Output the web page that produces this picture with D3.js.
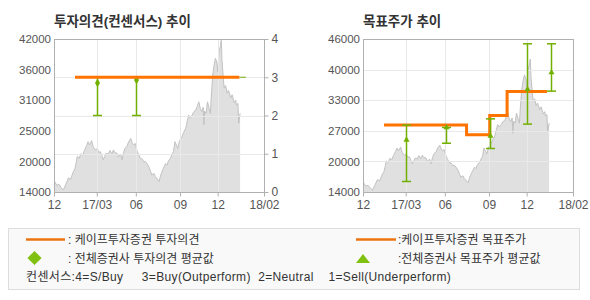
<!DOCTYPE html>
<html>
<head>
<meta charset="utf-8">
<script src="https://cdn.jsdelivr.net/npm/d3@7"></script>
<style>
  body { margin: 0; background: #fff; }
  svg text { font-family: "Liberation Sans", "Noto Sans CJK KR", sans-serif; }
</style>
</head>
<body>
<div id="chart"></div>
<script>
// x axis is in trading-day index from early Dec 2016
const xTickIdx = [0, 59, 113, 174, 226, 290];
const xTickLabels = ['12', '17/03', '06', '09', '12', '18/02'];

// share price (trading-day index, price)
const priceIdx = [0, 1, 4, 7, 10, 13, 16, 20, 23, 26, 29, 31, 32, 35, 37, 40, 42, 45, 47, 49,
  52, 54, 57, 60, 62, 64, 66, 68, 70, 72, 75, 77, 80, 82, 84, 87, 89, 92, 94, 96,
  98, 101, 103, 106, 108, 110, 112, 115, 117, 119, 122, 124, 126, 129, 131, 133, 135, 138, 140, 142,
  145, 147, 149, 151, 154, 156, 158, 161, 163, 165, 167, 169, 171, 173, 175, 177, 179, 182, 184, 186,
  188, 191, 193, 196, 198, 200, 202, 204, 206, 207, 208, 210, 212, 214, 216, 217, 219, 221, 223, 225,
  226, 228, 230, 231, 232, 234, 235, 237, 239, 241, 244, 246, 249, 251, 252, 254, 255, 257];
const priceVal = [15600, 15900, 15200, 15400, 14800, 14400, 15300, 16600, 16300, 17500, 18300, 19600, 20500, 20200, 21000, 20800, 21600, 22500, 23200, 22600,
  23400, 22300, 21700, 21900, 21200, 21400, 20700, 19900, 20500, 21100, 20900, 21600, 21000, 21700, 21200, 21100, 20400, 20900, 19900, 21200,
  22000, 22400, 23200, 23800, 23000, 22600, 22900, 21400, 20800, 20200, 20000, 19500, 19600, 19100, 18600, 17900, 17100, 17400, 16800, 16500,
  15900, 16900, 17700, 18300, 19200, 18900, 19700, 20200, 20900, 21400, 23200, 22600, 22000, 23200, 23800, 24200, 24900, 25700, 27000, 28100,
  27600, 28100, 28700, 29000, 29800, 30500, 29300, 28700, 29500, 26300, 28800, 28400, 30500, 29400, 28400, 31000, 35100, 37200, 38500, 37600,
  36000, 39700, 40800, 41800, 38000, 34500, 33000, 33500, 32100, 32600, 31200, 31800, 30300, 30800, 29900, 30200, 26600, 28400];

// investment opinion (Cape Investment & Securities), 3 = Buy
const opinionIdx = [29, 256];
const opinionVal = [3, 3];
const opinionTailIdx = [256, 265];
// all-brokers opinion consensus
const consIdx = [59, 113];
const consAvg = [2.85, 2.93];
const consLow = [2, 2];
const consHigh = [3, 3];

// target price (Cape), step line
const targetIdx = [29, 143, 175, 199, 254];
const targetVal = [28000, 26000, 30000, 35000, 35000];
// all-brokers target price consensus
const tgtConsIdx = [59, 114, 175, 227, 259];
const tgtConsAvg = [24900, 27500, 25700, 35500, 39000];
const tgtConsLow = [16200, 24200, 23100, 28200, 35100];
const tgtConsHigh = [28000, 27500, 29300, 45000, 45000];

const price = priceIdx.map((d, i) => [d, priceVal[i]]);

const orange = '#ff7300';
const green = '#72b000';
const axisColor = '#b0b0b0';
const gridColor = '#e9e9e9';
const labelColor = '#555';

const svg = d3.select('#chart').append('svg')
  .attr('width', 590)
  .attr('height', 300);

const plotTop = 39, plotBottom = 192, plotW = 210;

function panel(opt) {
  const g = svg.append('g');
  const x = d3.scaleLinear().domain([0, 290]).range([opt.x0, opt.x0 + plotW]);
  const y = d3.scaleLinear().domain(opt.yDomain).range([plotBottom, plotTop]);
  const yTicks = d3.range(6).map(i => opt.yDomain[0] + i * (opt.yDomain[1] - opt.yDomain[0]) / 5);

  g.append('text')
    .attr('x', opt.x0)
    .attr('y', 26)
    .attr('font-size', 13.5)
    .attr('font-weight', 'bold')
    .attr('fill', '#333')
    .text(opt.title);

  const clipId = 'clip' + opt.x0;
  g.append('clipPath').attr('id', clipId)
    .append('rect').attr('x', opt.x0).attr('y', plotTop).attr('width', plotW).attr('height', plotBottom - plotTop);

  // price area
  g.append('path')
    .datum(price)
    .attr('clip-path', `url(#${clipId})`)
    .attr('fill', '#e0e0e0')
    .attr('d', d3.area().x(d => x(d[0])).y0(plotBottom).y1(d => y(d[1])));
  g.append('path')
    .datum(price)
    .attr('clip-path', `url(#${clipId})`)
    .attr('fill', 'none')
    .attr('stroke', '#c2c2c2')
    .attr('stroke-width', 1)
    .attr('d', d3.line().x(d => x(d[0])).y(d => y(d[1])));

  // grid
  g.selectAll('.vgrid')
    .data(xTickIdx.slice(1, -1))
    .enter().append('line')
    .attr('x1', d => Math.round(x(d)) + 0.5).attr('x2', d => Math.round(x(d)) + 0.5)
    .attr('y1', plotTop).attr('y2', plotBottom)
    .attr('stroke', gridColor);
  g.selectAll('.hgrid')
    .data(opt.gridY)
    .enter().append('line')
    .attr('x1', opt.x0).attr('x2', opt.x0 + plotW)
    .attr('y1', d => Math.round(opt.gridScale(y)(d)) + 0.5)
    .attr('y2', d => Math.round(opt.gridScale(y)(d)) + 0.5)
    .attr('stroke', gridColor);

  // frame
  g.append('rect')
    .attr('x', opt.x0 + 0.5).attr('y', plotTop + 0.5)
    .attr('width', plotW).attr('height', plotBottom - plotTop)
    .attr('fill', 'none').attr('stroke', axisColor);

  // x axis
  const xAxis = g.append('g')
    .attr('transform', `translate(0,${plotBottom + 0.5})`)
    .call(d3.axisBottom(x).tickValues(xTickIdx).tickFormat((d, i) => xTickLabels[i]).tickSize(4).tickPadding(4));
  xAxis.select('.domain').remove();
  xAxis.selectAll('line').attr('stroke', axisColor);
  xAxis.selectAll('text').attr('font-size', 12).attr('fill', labelColor).attr('font-family', null);

  // y axis (left)
  const yAxis = g.append('g')
    .attr('transform', `translate(${opt.x0 - 3},0)`)
    .call(d3.axisLeft(y).tickValues(yTicks).tickFormat(d => Math.round(d / 1000) * 1000).tickSize(0).tickPadding(0));
  yAxis.select('.domain').remove();
  yAxis.selectAll('text').attr('font-size', 11.5).attr('fill', labelColor).attr('font-family', null);

  return { g, x, y };
}

// ---- left: investment opinion ----
const yOp = d3.scaleLinear().domain([0, 4]).range([plotBottom, plotTop]);
const left = panel({
  x0: 54, yDomain: [14000, 42000], title: '투자의견(컨센서스) 추이',
  gridY: [1, 2, 3], gridScale: () => yOp
});

const rAxis = left.g.append('g')
  .attr('transform', `translate(${54 + plotW + 0.5},0)`)
  .call(d3.axisRight(yOp).ticks(4).tickSize(4).tickPadding(3));
rAxis.select('.domain').remove();
rAxis.selectAll('line').attr('stroke', axisColor);
rAxis.selectAll('text').attr('font-size', 12).attr('fill', labelColor).attr('font-family', null);

const lx = left.x;
consIdx.forEach((d, i) => {
  const cx = Math.round(lx(d)) + 0.5;
  left.g.append('line').attr('x1', cx).attr('x2', cx)
    .attr('y1', yOp(consLow[i])).attr('y2', yOp(consHigh[i]))
    .attr('stroke', green).attr('stroke-width', 1.5);
  left.g.append('line').attr('x1', cx - 4.5).attr('x2', cx + 4.5)
    .attr('y1', yOp(consLow[i])).attr('y2', yOp(consLow[i]))
    .attr('stroke', green).attr('stroke-width', 1.5);
  left.g.append('path')
    .attr('transform', `translate(${cx},${yOp(consAvg[i])})`)
    .attr('d', d3.symbol(d3.symbolDiamond, 22)())
    .attr('fill', green);
});
left.g.append('path')
  .datum(opinionTailIdx.map(d => [d, 3]))
  .attr('fill', 'none').attr('stroke', green).attr('stroke-width', 1)
  .attr('d', d3.line().x(d => lx(d[0])).y(d => yOp(d[1])));
left.g.append('path')
  .datum(opinionIdx.map((d, i) => [d, opinionVal[i]]))
  .attr('fill', 'none').attr('stroke', orange).attr('stroke-width', 3)
  .attr('d', d3.line().x(d => lx(d[0])).y(d => yOp(d[1])));

// ---- right: target price ----
const right = panel({
  x0: 363, yDomain: [14000, 46000], title: '목표주가 추이',
  gridY: d3.range(1, 5).map(i => 14000 + i * 6400), gridScale: y => y
});
const rx = right.x, ry = right.y;
right.g.append('path')
  .datum(targetIdx.map((d, i) => [d, targetVal[i]]))
  .attr('fill', 'none').attr('stroke', orange).attr('stroke-width', 3)
  .attr('d', d3.line().curve(d3.curveStepAfter).x(d => rx(d[0])).y(d => ry(d[1])));
tgtConsIdx.forEach((d, i) => {
  const cx = Math.round(rx(d)) + 0.5;
  right.g.append('line').attr('x1', cx).attr('x2', cx)
    .attr('y1', ry(tgtConsLow[i])).attr('y2', ry(tgtConsHigh[i]))
    .attr('stroke', green).attr('stroke-width', 1.5);
  [tgtConsLow[i], tgtConsHigh[i]].forEach(v => {
    right.g.append('line').attr('x1', cx - 4.5).attr('x2', cx + 4.5)
      .attr('y1', ry(v)).attr('y2', ry(v))
      .attr('stroke', green).attr('stroke-width', 1.5);
  });
  right.g.append('path')
    .attr('transform', `translate(${cx},${ry(tgtConsAvg[i])})`)
    .attr('d', d3.symbol(d3.symbolTriangle, 16)())
    .attr('fill', green);
});

// ---- legend ----
const lg = svg.append('g').attr('font-size', 12).attr('fill', '#333');
lg.append('rect')
  .attr('x', 8.5).attr('y', 228.5).attr('width', 571).attr('height', 61)
  .attr('fill', '#f9f9f9').attr('stroke', '#dddddd');
lg.append('line').attr('x1', 26).attr('x2', 65).attr('y1', 239.5).attr('y2', 239.5)
  .attr('stroke', '#ec7410').attr('stroke-width', 2.5);
lg.append('text').attr('x', 68).attr('y', 244).text(': 케이프투자증권 투자의견');
lg.append('path')
  .attr('d', d3.symbol(d3.symbolSquare, 100)()).attr('transform', 'translate(34.5,258) rotate(45)')
  .attr('fill', '#80c010');
lg.append('text').attr('x', 68).attr('y', 263).text(': 전체증권사 투자의견 평균값');
lg.append('text').attr('x', 26).attr('y', 281).attr('font-size', 12).attr('letter-spacing', 0.35)
  .style('white-space', 'pre')
  .text('컨센서스:4=S/Buy     3=Buy(Outperform)  2=Neutral    1=Sell(Underperform)');
lg.append('line').attr('x1', 356).attr('x2', 396).attr('y1', 239.5).attr('y2', 239.5)
  .attr('stroke', '#ec7410').attr('stroke-width', 2.5);
lg.append('text').attr('x', 398).attr('y', 244).text(':케이프투자증권 목표주가');
lg.append('path').attr('d', 'M356,263L363,254L370,263Z').attr('fill', '#80c010');
lg.append('text').attr('x', 398).attr('y', 263).text(':전체증권사 목표주가 평균값');
</script>
</body>
</html>
